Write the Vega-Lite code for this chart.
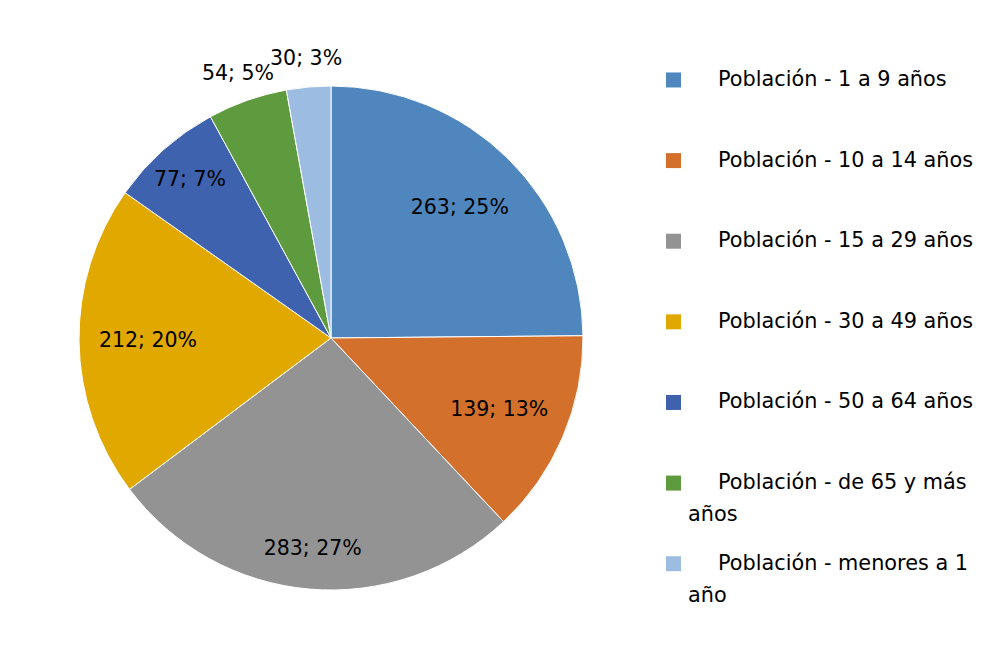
{
  "$schema": "https://vega.github.io/schema/vega-lite/v6.json",
  "padding": {"left": 9, "top": 7, "right": 0, "bottom": 0},
  "background": "white",
  "config": {"view": {"stroke": null}},
  "datasets": {
    "pob": [
      {"grupo": "Población - 1 a 9 años", "leyenda": "Población - 1 a 9 años", "valor": 263},
      {"grupo": "Población - 10 a 14 años", "leyenda": "Población - 10 a 14 años", "valor": 139},
      {"grupo": "Población - 15 a 29 años", "leyenda": "Población - 15 a 29 años", "valor": 283},
      {"grupo": "Población - 30 a 49 años", "leyenda": "Población - 30 a 49 años", "valor": 212},
      {"grupo": "Población - 50 a 64 años", "leyenda": "Población - 50 a 64 años", "valor": 77},
      {"grupo": "Población - de 65 y más años", "leyenda": "Población - de 65 y más\naños", "valor": 54},
      {"grupo": "Población - menores a 1 año", "leyenda": "Población - menores a 1\naño", "valor": 30}
    ]
  },
  "spacing": 0,
  "hconcat": [
    {
      "width": 644,
      "height": 662,
      "data": {"name": "pob"},
      "transform": [
        {"window": [{"op": "row_number", "as": "rango"}]},
        {"joinaggregate": [{"op": "sum", "field": "valor", "as": "total"}]},
        {"calculate": "datum.valor + '; ' + round(datum.valor / datum.total * 100) + '%'", "as": "etiqueta"}
      ],
      "encoding": {
        "theta": {"field": "valor", "type": "quantitative", "stack": true},
        "order": {"field": "rango", "type": "quantitative", "sort": "ascending"},
        "color": {
          "field": "grupo", "type": "nominal", "legend": null,
          "scale": {
            "domain": ["Población - 1 a 9 años", "Población - 10 a 14 años", "Población - 15 a 29 años", "Población - 30 a 49 años", "Población - 50 a 64 años", "Población - de 65 y más años", "Población - menores a 1 año"],
            "range": ["#4F86BE", "#D3702B", "#939393", "#E1A800", "#3E62AD", "#5E9A3E", "#9CBCE2"]
          }
        }
      },
      "layer": [
        {"mark": {"type": "arc", "outerRadius": 252, "stroke": "white", "strokeWidth": 1}},
        {
          "mark": {"type": "text", "radius": 183, "font": "DejaVu Sans", "fontSize": 20.5, "color": "#000000"},
          "encoding": {
            "color": {"value": "#000000"},
            "text": {"condition": {"test": "datum.valor >= 100 && datum.valor != 283", "field": "etiqueta"}, "value": ""}
          }
        },
        {
          "mark": {"type": "text", "radius": 212, "font": "DejaVu Sans", "fontSize": 20.5, "color": "#000000"},
          "encoding": {
            "color": {"value": "#000000"},
            "text": {"condition": {"test": "datum.valor == 283 || (datum.valor >= 70 && datum.valor < 100)", "field": "etiqueta"}, "value": ""}
          }
        },
        {
          "mark": {"type": "text", "radius": 280, "font": "DejaVu Sans", "fontSize": 20.5, "color": "#000000"},
          "encoding": {
            "color": {"value": "#000000"},
            "text": {"condition": {"test": "datum.valor < 70", "field": "etiqueta"}, "value": ""}
          }
        }
      ]
    },
    {
      "width": 41,
      "height": 645,
      "data": {"name": "pob"},
      "transform": [
        {"calculate": "split(datum.leyenda, '\\n')[0]", "as": "linea1"},
        {"calculate": "length(split(datum.leyenda, '\\n')) > 1 ? split(datum.leyenda, '\\n')[1] : ''", "as": "linea2"}
      ],
      "encoding": {
        "y": {"field": "grupo", "type": "nominal", "axis": null, "scale": {"type": "point", "padding": 1, "align": 0.4525}}
      },
      "layer": [
        {
          "mark": {"type": "square", "size": 225, "filled": true, "opacity": 1},
          "encoding": {
            "color": {
              "field": "grupo", "type": "nominal", "legend": null,
              "scale": {
                "domain": ["Población - 1 a 9 años", "Población - 10 a 14 años", "Población - 15 a 29 años", "Población - 30 a 49 años", "Población - 50 a 64 años", "Población - de 65 y más años", "Población - menores a 1 año"],
                "range": ["#4F86BE", "#D3702B", "#939393", "#E1A800", "#3E62AD", "#5E9A3E", "#9CBCE2"]
              }
            }
          }
        },
        {
          "mark": {"type": "text", "align": "left", "baseline": "middle", "dx": 44.5, "font": "DejaVu Sans", "fontSize": 20.8, "color": "#000000"},
          "encoding": {"text": {"field": "linea1"}}
        },
        {
          "mark": {"type": "text", "align": "left", "baseline": "middle", "dx": 14.5, "dy": 32, "font": "DejaVu Sans", "fontSize": 20.8, "color": "#000000"},
          "encoding": {"text": {"field": "linea2"}}
        }
      ]
    }
  ]
}
